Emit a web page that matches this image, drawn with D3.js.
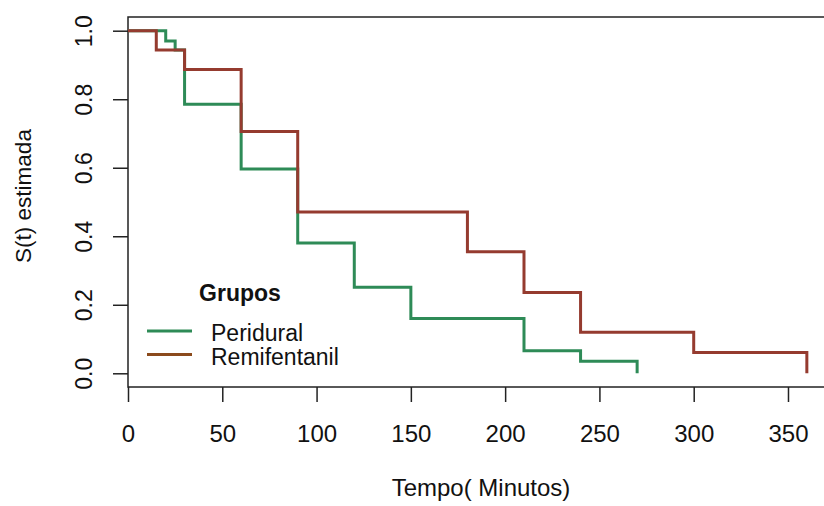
<!DOCTYPE html>
<html>
<head>
<meta charset="utf-8">
<script src="https://cdn.jsdelivr.net/npm/d3@7"></script>
<style>
  body { margin: 0; background: #fff; }
  svg { display: block; font-family: "Liberation Sans", Arial, sans-serif; }
</style>
</head>
<body>
<div id="chart"></div>
<script>
// Kaplan-Meier estimates
var periTime = [0, 20, 25, 30, 60, 90, 120, 150, 210, 240, 270];
var periSurv = [1, 0.970, 0.944, 0.785, 0.596, 0.380, 0.251, 0.160, 0.066, 0.035, 0];

var remiTime = [0, 15, 30, 60, 90, 180, 210, 240, 300, 360];
var remiSurv = [1, 0.944, 0.887, 0.706, 0.471, 0.355, 0.236, 0.120, 0.061, 0];

var xTicks = [0, 50, 100, 150, 200, 250, 300, 350];
var yTicks = [0, 0.2, 0.4, 0.6, 0.8, 1.0];

var groups = ["Peridural", "Remifentanil"];
var colors = ["#2e8b57", "#953b2f"];
var legendColors = ["#2e8b57", "#8b4a1c"];

var width = 824, height = 506;
var plotLeft = 128, plotRight = 834, plotTop = 17, plotBottom = 387;

var x = d3.scaleLinear().domain([0, 374.4]).range([plotLeft, plotRight]);
var y = d3.scaleLinear().domain([-0.04, 1.04]).range([plotBottom, plotTop]);

var svg = d3.select("#chart").append("svg")
    .attr("width", width)
    .attr("height", height);

// plot box
svg.append("rect")
    .attr("x", plotLeft).attr("y", plotTop)
    .attr("width", plotRight - plotLeft).attr("height", plotBottom - plotTop)
    .attr("fill", "none")
    .attr("stroke", "#222")
    .attr("stroke-width", 1.5);

function toRows(t, s) {
  return t.map(function(d, i) { return { t: d, s: s[i] }; });
}

var line = d3.line()
    .x(function(d) { return x(d.t); })
    .y(function(d) { return y(d.s); })
    .curve(d3.curveStepAfter);

var series = [toRows(periTime, periSurv), toRows(remiTime, remiSurv)];

series.forEach(function(rows, i) {
  svg.append("path")
    .attr("d", line(rows))
    .attr("fill", "none")
    .attr("stroke", colors[i])
    .attr("stroke-width", 3);
});

// x axis
var xAxis = d3.axisBottom(x).tickValues(xTicks).tickSize(15).tickPadding(23).tickFormat(d3.format("d"));
var gx = svg.append("g")
    .attr("transform", "translate(0," + plotBottom + ")")
    .call(xAxis);
gx.select(".domain").remove();
gx.selectAll("line").attr("stroke", "#222").attr("stroke-width", 1.5);
gx.selectAll("text")
    .attr("font-size", 24)
    .attr("fill", "#111")
    .attr("font-family", "Liberation Sans, Arial, sans-serif");

// y axis
var yAxis = d3.axisLeft(y).tickValues(yTicks).tickSize(15).tickFormat(d3.format(".1f"));
var gy = svg.append("g")
    .attr("transform", "translate(" + plotLeft + ",0)")
    .call(yAxis);
gy.select(".domain").remove();
gy.selectAll("line").attr("stroke", "#222").attr("stroke-width", 1.5);
gy.selectAll("text")
    .attr("x", 0).attr("dy", 0)
    .attr("transform", "translate(-36,0) rotate(-90)")
    .attr("text-anchor", "middle")
    .attr("font-size", 23)
    .attr("fill", "#111")
    .attr("font-family", "Liberation Sans, Arial, sans-serif");

// axis titles
svg.append("text")
    .attr("x", (plotLeft + plotRight) / 2)
    .attr("y", 496)
    .attr("text-anchor", "middle")
    .attr("font-size", 24)
    .attr("fill", "#111")
    .text("Tempo( Minutos)");

svg.append("text")
    .attr("transform", "translate(31," + 196 + ") rotate(-90)")
    .attr("text-anchor", "middle")
    .attr("font-size", 22.5)
    .attr("fill", "#111")
    .text("S(t) estimada");

// legend
var legend = svg.append("g");
legend.append("text")
    .attr("x", 240).attr("y", 301)
    .attr("text-anchor", "middle")
    .attr("font-size", 23)
    .attr("font-weight", "bold")
    .attr("fill", "#111")
    .text("Grupos");

groups.forEach(function(g, i) {
  var ly = 331 + i * 23.5;
  legend.append("line")
    .attr("x1", 147).attr("x2", 192)
    .attr("y1", ly).attr("y2", ly)
    .attr("stroke", legendColors[i])
    .attr("stroke-width", 3);
  legend.append("text")
    .attr("x", 211).attr("y", ly + 10)
    .attr("font-size", 23)
    .attr("fill", "#111")
    .text(g);
});
</script>
</body>
</html>
